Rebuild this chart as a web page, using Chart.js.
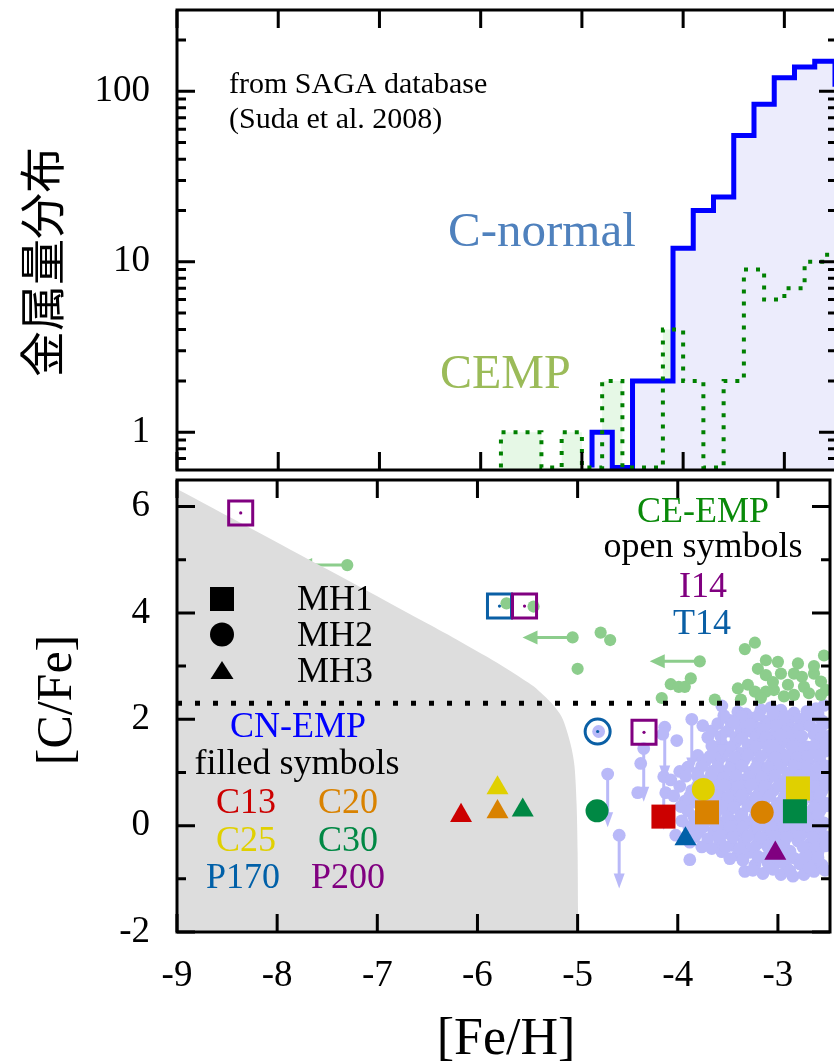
<!DOCTYPE html>
<html>
<head>
<meta charset="utf-8">
<script src="https://cdn.jsdelivr.net/npm/chart.js@4.4.1/dist/chart.umd.min.js"></script>
<style>
  html, body { margin: 0; padding: 0; background: #fff; overflow: hidden; }
  #wrap { position: relative; width: 834px; height: 1064px; overflow: hidden; }
  #top { position: absolute; left: 0; top: 0; }
  #bot { position: absolute; left: 0; top: 460px; }
</style>
</head>
<body>
<div id="wrap">
  <canvas id="top" width="850" height="480"></canvas>
  <canvas id="bot" width="850" height="604"></canvas>
</div>
<script>
// ---- shared x axis ([Fe/H]) ----
const FE_MIN = -9, FE_MAX = -2.48;
const feTicks = [-9, -8, -7, -6, -5, -4, -3];

// ---- top panel: metallicity distribution (SAGA), 0.2 dex bins, left edges ----
const distTicks = [1, 10, 100];
const distMinor = [0.7, 0.8, 0.9, 2, 3, 4, 5, 6, 7, 8, 9, 20, 30, 40, 50, 60, 70, 80, 90, 200];
const normalEdges  = [-4.9, -4.9, -4.7, -4.5, -4.3, -4.1, -3.9, -3.7, -3.5, -3.3, -3.1, -2.9, -2.7, -2.5, -2.3];
const normalCounts = [0, 1, 0, 2, 2, 12, 20, 24, 55, 84, 120, 139, 150, 110, 110];
const cempEdges  = [-5.8, -5.8, -5.6, -5.4, -5.2, -5.0, -4.8, -4.6, -4.4, -4.2, -4.0, -3.8, -3.6, -3.4, -3.2, -3.0, -2.8, -2.6, -2.4];
const cempCounts = [0, 1, 1, 0, 1, 0, 2, 0, 0, 4, 2, 0, 2, 9, 6, 7, 10, 11, 11];

// ---- bottom panel: [C/Fe] vs [Fe/H] ----
const cfeTicks = [-2, 0, 2, 4, 6];
const cfeMinor = [-1, 1, 3, 5];
const cempCut = 2.3;

// C-normal EMP stars [Fe/H, C/Fe]
const normalStars = [
  [-3.40,2.14],[-3.32,2.10],[-3.17,2.18],[-3.07,2.22],[-2.97,2.17],[-2.84,2.12],[-2.71,2.15],[-2.62,2.20],[-2.54,2.26],
  [-3.48,1.98],[-3.25,2.02],[-3.12,1.96],[-3.00,2.03],[-2.90,1.98],[-2.78,2.00],[-2.66,2.04],[-2.56,1.97],
  [-3.75,1.88],[-3.38,1.86],[-3.20,1.84],[-3.10,1.91],[-2.97,1.85],[-2.85,1.83],[-2.74,1.91],[-2.62,1.80],[-2.54,1.91],
  [-4.15,1.72],[-3.66,1.78],[-3.50,1.78],[-3.42,1.66],[-3.30,1.78],[-3.22,1.66],[-3.05,1.70],[-2.87,1.66],[-2.64,1.72],[-2.50,1.68],
  [-4.01,1.60],[-3.56,1.54],[-3.43,1.54],[-3.30,1.52],[-3.15,1.56],[-3.03,1.51],[-2.93,1.58],[-2.80,1.55],[-2.71,1.48],[-2.58,1.52],
  [-3.62,1.38],[-3.50,1.40],[-3.37,1.36],[-3.24,1.42],[-3.10,1.38],[-2.98,1.40],[-2.86,1.36],[-2.76,1.42],[-2.64,1.38],[-2.53,1.40],
  [-4.37,1.17],[-3.72,1.22],[-3.60,1.20],[-3.46,1.18],[-3.34,1.23],[-3.20,1.20],[-3.06,1.18],[-2.94,1.22],[-2.82,1.19],[-2.70,1.20],[-2.58,1.22],
  [-3.98,1.02],[-3.80,1.00],[-3.66,1.02],[-3.54,0.98],[-3.42,1.03],[-3.28,1.00],[-3.16,0.97],[-3.02,1.02],[-2.90,0.99],[-2.78,1.03],[-2.66,0.98],[-2.54,1.00],
  [-4.07,0.86],[-3.74,0.84],[-3.60,0.86],[-3.48,0.82],[-3.36,0.86],[-3.22,0.84],[-3.10,0.88],[-2.96,0.83],[-2.84,0.87],[-2.72,0.84],[-2.60,0.86],
  [-4.40,0.62],[-4.12,0.62],[-4.04,0.56],[-3.86,0.66],[-3.72,0.64],[-3.58,0.68],[-3.46,0.62],[-3.32,0.66],[-3.18,0.64],[-3.04,0.67],[-2.92,0.63],[-2.80,0.66],[-2.68,0.62],[-2.56,0.65],
  [-3.93,0.46],[-3.82,0.44],[-3.66,0.47],[-3.54,0.43],[-3.40,0.48],[-3.28,0.44],[-3.14,0.46],[-3.00,0.42],[-2.88,0.47],[-2.76,0.44],[-2.62,0.46],[-2.52,0.42],
  [-3.90,0.28],[-3.62,0.24],[-3.50,0.27],[-3.36,0.22],[-3.22,0.26],[-3.08,0.23],[-2.96,0.27],[-2.84,0.22],[-2.70,0.25],[-2.58,0.28],
  [-3.96,0.09],[-3.82,0.06],[-3.70,0.10],[-3.56,0.05],[-3.44,0.08],[-3.30,0.06],[-3.16,0.10],[-3.04,0.05],[-2.92,0.08],[-2.78,0.06],[-2.66,0.10],[-2.54,0.05],
  [-4.02,-0.18],[-3.79,-0.12],[-3.64,-0.10],[-3.52,-0.14],[-3.38,-0.10],[-3.24,-0.13],[-3.10,-0.09],[-2.98,-0.14],[-2.86,-0.10],[-2.72,-0.12],[-2.60,-0.15],
  [-3.88,-0.31],[-3.70,-0.25],[-3.58,-0.30],[-3.46,-0.37],[-3.34,-0.30],[-3.20,-0.33],[-3.06,-0.28],[-2.94,-0.32],[-2.80,-0.29],[-2.68,-0.34],[-2.55,-0.30],
  [-3.66,-0.43],[-3.56,-0.49],[-3.40,-0.55],[-3.28,-0.50],[-3.13,-0.61],[-3.02,-0.52],[-2.88,-0.48],[-2.84,-0.61],[-2.71,-0.55],[-2.60,-0.50],
  [-3.88,-0.64],[-3.23,-0.74],[-3.10,-0.70],[-2.98,-0.68],[-2.91,-0.80],[-2.78,-0.72],[-2.65,-0.68],[-2.56,-0.74],
  [-3.33,-0.86],[-3.15,-0.90],[-2.97,-0.92],[-2.85,-0.95],[-2.74,-0.92],[-2.64,-0.86],
  [-4.79,1.77],
  // dense core, in-between points
  [-3.54,2.07],[-3.36,2.05],[-3.19,2.08],[-3.05,2.10],[-2.93,2.06],[-2.72,2.04],[-2.60,2.10],
  [-3.60,1.92],[-3.44,1.94],[-3.28,1.90],[-3.15,1.80],[-3.02,1.88],[-2.91,1.76],[-2.80,1.80],[-2.68,1.88],[-2.58,1.78],
  [-3.70,1.66],[-3.57,1.68],[-3.36,1.64],[-3.12,1.66],[-2.97,1.70],[-2.76,1.68],[-2.57,1.64],
  [-3.66,1.50],[-3.48,1.47],[-3.22,1.48],[-3.09,1.50],[-2.86,1.48],[-2.64,1.50],[-2.52,1.56],
  [-3.80,1.32],[-3.68,1.30],[-3.56,1.30],[-3.43,1.28],[-3.30,1.32],[-3.17,1.30],[-3.03,1.28],[-2.92,1.31],[-2.81,1.28],[-2.70,1.30],[-2.58,1.32],
  [-3.90,1.10],[-3.76,1.12],[-3.60,1.10],[-3.48,1.08],[-3.36,1.12],[-3.22,1.09],[-3.10,1.10],[-2.97,1.08],[-2.84,1.12],[-2.72,1.10],[-2.60,1.08],[-2.52,1.12],
  [-3.92,0.93],[-3.80,0.92],[-3.67,0.94],[-3.54,0.90],[-3.42,0.94],[-3.29,0.92],[-3.16,0.91],[-3.03,0.94],[-2.90,0.92],[-2.78,0.94],[-2.66,0.90],[-2.54,0.93],
  [-3.98,0.74],[-3.80,0.76],[-3.66,0.74],[-3.53,0.76],[-3.40,0.73],[-3.27,0.77],[-3.13,0.74],[-2.99,0.76],[-2.86,0.73],[-2.74,0.76],[-2.62,0.74],[-2.52,0.77],
  [-3.88,0.55],[-3.76,0.54],[-3.62,0.56],[-3.50,0.53],[-3.36,0.57],[-3.22,0.54],[-3.08,0.56],[-2.94,0.53],[-2.82,0.56],[-2.70,0.54],[-2.58,0.56],
  [-3.97,0.36],[-3.76,0.35],[-3.56,0.36],[-3.44,0.34],[-3.30,0.37],[-3.15,0.34],[-3.02,0.36],[-2.90,0.33],[-2.78,0.36],[-2.64,0.34],[-2.52,0.37],
  [-3.84,0.17],[-3.68,0.18],[-3.50,0.16],[-3.37,0.18],[-3.23,0.16],[-3.10,0.18],[-2.98,0.15],[-2.85,0.17],[-2.72,0.16],[-2.60,0.18],
  [-3.89,-0.02],[-3.75,-0.03],[-3.61,0.00],[-3.48,-0.02],[-3.35,-0.03],[-3.20,-0.01],[-3.07,-0.03],[-2.94,0.00],[-2.82,-0.02],[-2.68,-0.03],[-2.56,0.00],
  [-3.83,-0.21],[-3.58,-0.20],[-3.45,-0.22],[-3.30,-0.20],[-3.17,-0.22],[-3.03,-0.20],[-2.91,-0.22],[-2.78,-0.20],[-2.65,-0.22],[-2.53,-0.20],
  [-3.76,-0.40],[-3.52,-0.40],[-3.38,-0.43],[-3.24,-0.41],[-3.10,-0.40],[-2.97,-0.42],[-2.75,-0.40],[-2.62,-0.42],[-2.52,-0.38],
  [-3.48,-0.62],[-3.35,-0.65],[-3.20,-0.58],[-3.06,-0.60],[-2.92,-0.62],[-2.75,-0.62],[-2.60,-0.60],
  [-3.25,-0.84],[-3.05,-0.82],[-2.88,-0.85],[-2.68,-0.80],[-2.53,-0.84]
];
// C-normal upper limits on [C/Fe]
const normalUpper = [[-4.70,0.97],[-4.585,-0.18],[-4.34,1.45],[-4.14,0.92],[-4.13,1.85],[-3.86,2.00],[-3.56,2.25]];
const upperLenC = 1.0;

// CEMP stars
const cempStars = [
  [-5.71,4.18],[-5.44,4.12],[-4.77,3.63],[-4.675,3.49],[-5.00,2.95],[-4.07,2.66],[-4.16,2.40],
  [-3.99,2.61],[-3.93,2.61],[-3.87,2.77],[-3.63,2.37],[-3.23,3.44],[-3.33,3.32],[-3.12,3.11],
  [-3.00,3.08],[-3.20,2.95],[-3.12,2.83],[-2.97,2.86],[-2.84,2.86],[-2.76,2.80],[-2.64,2.86],
  [-2.54,3.20],[-3.40,2.58],[-3.30,2.65],[-3.23,2.52],[-3.12,2.52],[-3.04,2.55],[-2.94,2.43],
  [-2.84,2.46],[-2.74,2.61],[-2.69,2.49],[-2.57,2.46],[-2.57,2.71],[-3.37,2.37],[-3.17,2.40],
  [-2.90,2.65],[-2.64,3.00],[-3.05,2.70],[-2.52,2.55],[-2.80,3.05]
];
// CEMP upper limits on [Fe/H]
const cempUpper = [[-7.30,4.90],[-5.05,3.54],[-3.78,3.09]];
const upperLenFe = 0.5;

// edge of the grey excluded region
const excludedEdge = [
  [-9.0,6.33],[-7.5,4.82],[-6.5,3.80],[-6.17,3.46],[-5.9,3.17],[-5.7,2.94],[-5.55,2.76],[-5.44,2.62],
  [-5.34,2.45],[-5.24,2.26],[-5.16,2.05],[-5.11,1.80],[-5.06,1.45],[-5.03,1.10],[-5.01,0.40],[-5.0,-0.5],[-4.995,-2.0]
];

// model stars
const mh1Model = ['C13', 'C20', 'C25', 'C30'];
const mh1Fe    = [-4.143, -3.708, -2.80, -2.83];
const mh1CFe   = [0.17, 0.25, 0.70, 0.27];
const mh2Model = ['C20', 'C25', 'C30'];
const mh2Fe    = [-3.157, -3.745, -4.806];
const mh2CFe   = [0.25, 0.68, 0.28];
const mh3Model = ['C13', 'C20', 'C25', 'C30', 'P170', 'P200'];
const mh3Fe    = [-6.164, -5.80, -5.80, -5.548, -3.923, -3.026];
const mh3CFe   = [0.19, 0.26, 0.71, 0.29, -0.25, -0.52];

// open symbols
const i14SqFe  = [-8.364, -5.53, -4.337];
const i14SqCFe = [5.88, 4.13, 1.755];
const t14SqFe  = [-5.78];
const t14SqCFe = [4.13];
const t14CiFe  = [-4.80];
const t14CiCFe = [1.77];

// ---- styles ----
const SERIF = '"Liberation Serif", "Times New Roman", serif';
const LAV = '#b9b9f8', CGREEN = '#8ccd8c';
const PURPLE = '#800080', BLUE14 = '#0a5fa5';
const modelColor = { C13: '#cc0000', C20: '#d98200', C25: '#e0d000', C30: '#008844', P170: '#0060a8', P200: '#800080' };
const HIST_FLOOR = 0.62;   // empty bins drawn along the lower border

const xy = (fe, c) => fe.map((v, i) => ({ x: v, y: c[i] }));
const pairs = arr => arr.map(p => ({ x: p[0], y: p[1] }));
const steps = (edges, counts) => edges.map((e, i) => ({ x: e, y: Math.max(counts[i], HIST_FLOOR) }));

// inward ticks + frame
function framePlugin(yMajor, yMinor) {
  return {
    id: 'frame',
    afterDatasetsDraw(chart) {
      const { ctx, chartArea: a, scales: { x, y } } = chart;
      const MAJ = 18, MIN = 9;
      ctx.save();
      ctx.strokeStyle = '#000';
      ctx.lineWidth = 3;
      ctx.beginPath();
      feTicks.forEach(v => {
        const px = x.getPixelForValue(v);
        ctx.moveTo(px, a.bottom); ctx.lineTo(px, a.bottom - MAJ);
        ctx.moveTo(px, a.top); ctx.lineTo(px, a.top + MAJ);
      });
      const yt = (vals, len) => vals.forEach(v => {
        const py = y.getPixelForValue(v);
        ctx.moveTo(a.left, py); ctx.lineTo(a.left + len, py);
        ctx.moveTo(a.right, py); ctx.lineTo(a.right - len, py);
      });
      yt(yMajor, MAJ);
      yt(yMinor, MIN);
      ctx.stroke();
      ctx.strokeRect(a.left, a.top, a.right - a.left, a.bottom - a.top);
      ctx.restore();
    }
  };
}

// free text, page coordinates
function textPlugin(offsetY, items) {
  return {
    id: 'texts',
    afterDraw(chart) {
      const ctx = chart.ctx;
      items.forEach(t => {
        ctx.save();
        ctx.font = t.font;
        ctx.fillStyle = t.color || '#000';
        ctx.textAlign = t.align || 'left';
        ctx.textBaseline = t.base || 'alphabetic';
        ctx.translate(t.x, t.y - offsetY);
        if (t.rot) ctx.rotate(-Math.PI / 2);
        ctx.fillText(t.text, 0, 0);
        ctx.restore();
      });
    }
  };
}

// fixed axis boxes: no extra room for overhanging labels
const fitY = s => { s.width = 177; s.paddingTop = 0; s.paddingBottom = 0; };
const fitX = s => { s.height = 132; s.paddingLeft = 0; s.paddingRight = 0; };

const yAxisCommon = {
  afterFit: fitY,
  grid: { display: false, drawTicks: false },
  border: { display: false },
  ticks: { font: { family: SERIF, size: 37 }, color: '#000', padding: 27, callback: v => String(v) }
};

// ================= top panel =================
new Chart(document.getElementById('top'), {
  type: 'line',
  data: {
    datasets: [
      { label: 'cempLine', data: steps(cempEdges, cempCounts), stepped: true, borderColor: '#008000',
        borderWidth: 4, borderDash: [4, 8], fill: false, pointRadius: 0, order: 0 },
      { label: 'normal', data: steps(normalEdges, normalCounts), stepped: true, borderColor: '#0000ff',
        borderWidth: 5, backgroundColor: '#ececfc', fill: 'start', pointRadius: 0, order: 1 },
      { label: 'cempFill', data: steps(cempEdges, cempCounts), stepped: true, borderColor: 'rgba(0,0,0,0)',
        borderWidth: 0, backgroundColor: '#e6f8e6', fill: 'start', pointRadius: 0, order: 2 }
    ]
  },
  options: {
    responsive: false, animation: false, events: [],
    layout: { padding: { top: 10, bottom: 10, right: 13, left: 0 } },
    plugins: { legend: { display: false }, tooltip: { enabled: false } },
    scales: {
      x: { type: 'linear', min: FE_MIN, max: FE_MAX, display: false },
      y: Object.assign({}, yAxisCommon, {
        type: 'logarithmic', min: 0.6, max: 300,
        afterBuildTicks: s => { s.ticks = distTicks.map(v => ({ value: v })); }
      })
    }
  },
  plugins: [
    framePlugin(distTicks, distMinor),
    textPlugin(0, [
      { text: 'from SAGA database', x: 229, y: 93, font: '30px ' + SERIF },
      { text: '(Suda et al. 2008)', x: 229, y: 128, font: '30px ' + SERIF },
      { text: 'C-normal', x: 448, y: 246, font: '49px ' + SERIF, color: '#4f81bd' },
      { text: 'CEMP', x: 440, y: 388, font: '48px ' + SERIF, color: '#9bbb59' },
      { text: '金属量分布', x: 42, y: 262, font: '46px "Noto Sans CJK JP", "Noto Sans CJK SC", sans-serif',
        align: 'center', base: 'middle', rot: true }
    ])
  ]
});

// ================= bottom panel =================
const arrowPlugin = {
  id: 'arrows',
  afterDatasetDraw(chart, args) {
    const lbl = chart.data.datasets[args.index].label;
    const { ctx, scales: { x, y } } = chart;
    ctx.save();
    if (lbl === 'normal') {
      ctx.strokeStyle = LAV; ctx.fillStyle = LAV; ctx.lineWidth = 3;
      normalUpper.forEach(([fe, c]) => {
        const px = x.getPixelForValue(fe), py = y.getPixelForValue(c), tip = y.getPixelForValue(c - upperLenC);
        ctx.beginPath(); ctx.moveTo(px, py); ctx.lineTo(px, tip - 12); ctx.stroke();
        ctx.beginPath(); ctx.moveTo(px, tip); ctx.lineTo(px - 5.5, tip - 15); ctx.lineTo(px + 5.5, tip - 15); ctx.closePath(); ctx.fill();
      });
    } else if (lbl === 'cemp') {
      ctx.strokeStyle = CGREEN; ctx.fillStyle = CGREEN; ctx.lineWidth = 3;
      cempUpper.forEach(([fe, c]) => {
        const px = x.getPixelForValue(fe), py = y.getPixelForValue(c), tip = x.getPixelForValue(fe - upperLenFe);
        ctx.beginPath(); ctx.moveTo(px, py); ctx.lineTo(tip + 12, py); ctx.stroke();
        ctx.beginPath(); ctx.moveTo(tip, py); ctx.lineTo(tip + 15, py - 7); ctx.lineTo(tip + 15, py + 7); ctx.closePath(); ctx.fill();
      });
    }
    ctx.restore();
  }
};

const legendMarks = {
  id: 'legendMarks',
  afterDraw(chart) {
    const ctx = chart.ctx, oy = 460;
    ctx.save();
    ctx.fillStyle = '#000';
    ctx.fillRect(222 - 12, 599 - 12 - oy, 24, 24);
    ctx.beginPath(); ctx.arc(222, 634.5 - oy, 12, 0, Math.PI * 2); ctx.fill();
    ctx.beginPath(); ctx.moveTo(222, 661 - oy); ctx.lineTo(233.5, 679 - oy); ctx.lineTo(210.5, 679 - oy); ctx.closePath(); ctx.fill();
    ctx.restore();
  }
};

const colorOf = names => ctx => modelColor[names[ctx.dataIndex]];
const L36 = '36px ' + SERIF;

new Chart(document.getElementById('bot'), {
  type: 'scatter',
  data: {
    datasets: [
      { label: 'normal', data: pairs(normalStars.concat(normalUpper)), pointRadius: 6.4, backgroundColor: LAV,
        borderWidth: 0, order: 20 },
      { label: 'cemp', data: pairs(cempStars.concat(cempUpper)), pointRadius: 6.1, backgroundColor: CGREEN,
        borderWidth: 0, order: 19 },
      { label: 'excluded', type: 'line', data: pairs(excludedEdge), fill: 'start', backgroundColor: '#dddddd',
        borderWidth: 0, borderColor: 'rgba(0,0,0,0)', pointRadius: 0, tension: 0.3, order: 10 },
      { label: 'cut', type: 'line', data: [{ x: FE_MIN, y: cempCut }, { x: FE_MAX, y: cempCut }], borderColor: '#000',
        borderWidth: 5, borderDash: [5, 13], fill: false, pointRadius: 0, order: 9 },
      { label: 'I14', data: xy(i14SqFe, i14SqCFe), pointStyle: 'rect', pointRadius: 17, borderColor: PURPLE,
        borderWidth: 3, backgroundColor: 'rgba(0,0,0,0)', order: 6 },
      { label: 'T14sq', data: xy(t14SqFe, t14SqCFe), pointStyle: 'rect', pointRadius: 17, borderColor: BLUE14,
        borderWidth: 3, backgroundColor: 'rgba(0,0,0,0)', order: 6 },
      { label: 'T14ci', data: xy(t14CiFe, t14CiCFe), pointStyle: 'circle', pointRadius: 12.5, borderColor: BLUE14,
        borderWidth: 3, backgroundColor: 'rgba(0,0,0,0)', order: 6 },
      { label: 'I14c', data: xy(i14SqFe, i14SqCFe), pointRadius: 1.6, backgroundColor: PURPLE, borderWidth: 0, order: 5 },
      { label: 'T14c', data: xy(t14SqFe.concat(t14CiFe), t14SqCFe.concat(t14CiCFe)), pointRadius: 1.6,
        backgroundColor: BLUE14, borderWidth: 0, order: 5 },
      { label: 'MH1', data: xy(mh1Fe, mh1CFe), pointStyle: 'rect', pointRadius: 17,
        backgroundColor: colorOf(mh1Model), borderWidth: 0, order: 2 },
      { label: 'MH2', data: xy(mh2Fe, mh2CFe), pointStyle: 'circle', pointRadius: 11.5,
        backgroundColor: colorOf(mh2Model), borderWidth: 0, order: 2 },
      { label: 'MH3', data: xy(mh3Fe, mh3CFe), pointStyle: 'triangle', pointRadius: 12.7,
        backgroundColor: colorOf(mh3Model), borderWidth: 0, order: 2 }
    ]
  },
  options: {
    responsive: false, animation: false, events: [],
    layout: { padding: { top: 10, bottom: 0, right: 13, left: 0 } },
    plugins: { legend: { display: false }, tooltip: { enabled: false } },
    scales: {
      x: {
        type: 'linear', min: FE_MIN, max: FE_MAX,
        afterFit: fitX,
        afterBuildTicks: s => { s.ticks = feTicks.map(v => ({ value: v })); },
        grid: { display: false, drawTicks: false },
        border: { display: false },
        ticks: { font: { family: SERIF, size: 37 }, color: '#000', padding: 22, maxRotation: 0, autoSkip: false,
                 callback: v => String(v) }
      },
      y: Object.assign({}, yAxisCommon, {
        type: 'linear', min: -2, max: 6.5,
        afterBuildTicks: s => { s.ticks = cfeTicks.map(v => ({ value: v })); }
      })
    }
  },
  plugins: [
    arrowPlugin,
    framePlugin(cfeTicks, cfeMinor),
    legendMarks,
    textPlugin(460, [
      { text: 'CE-EMP', x: 703, y: 522, font: L36, color: '#0a8a0a', align: 'center' },
      { text: 'open symbols', x: 703, y: 557, font: L36, align: 'center' },
      { text: 'I14', x: 703, y: 597, font: L36, color: PURPLE, align: 'center' },
      { text: 'T14', x: 702, y: 634, font: L36, color: BLUE14, align: 'center' },
      { text: 'MH1', x: 297, y: 610, font: L36 },
      { text: 'MH2', x: 297, y: 646, font: L36 },
      { text: 'MH3', x: 297, y: 682, font: L36 },
      { text: 'CN-EMP', x: 298, y: 737, font: L36, color: '#0000ff', align: 'center' },
      { text: 'filled symbols', x: 297, y: 774, font: L36, align: 'center' },
      { text: 'C13', x: 246, y: 813, font: L36, color: modelColor.C13, align: 'center' },
      { text: 'C20', x: 348, y: 813, font: L36, color: modelColor.C20, align: 'center' },
      { text: 'C25', x: 246, y: 851, font: L36, color: modelColor.C25, align: 'center' },
      { text: 'C30', x: 348, y: 851, font: L36, color: modelColor.C30, align: 'center' },
      { text: 'P170', x: 243, y: 888, font: L36, color: modelColor.P170, align: 'center' },
      { text: 'P200', x: 348, y: 888, font: L36, color: modelColor.P200, align: 'center' },
      { text: '[C/Fe]', x: 58, y: 700, font: '50px ' + SERIF, align: 'center', base: 'middle', rot: true },
      { text: '[Fe/H]', x: 506, y: 1040, font: '52px ' + SERIF, align: 'center', base: 'middle' }
    ])
  ]
});
</script>
</body>
</html>
